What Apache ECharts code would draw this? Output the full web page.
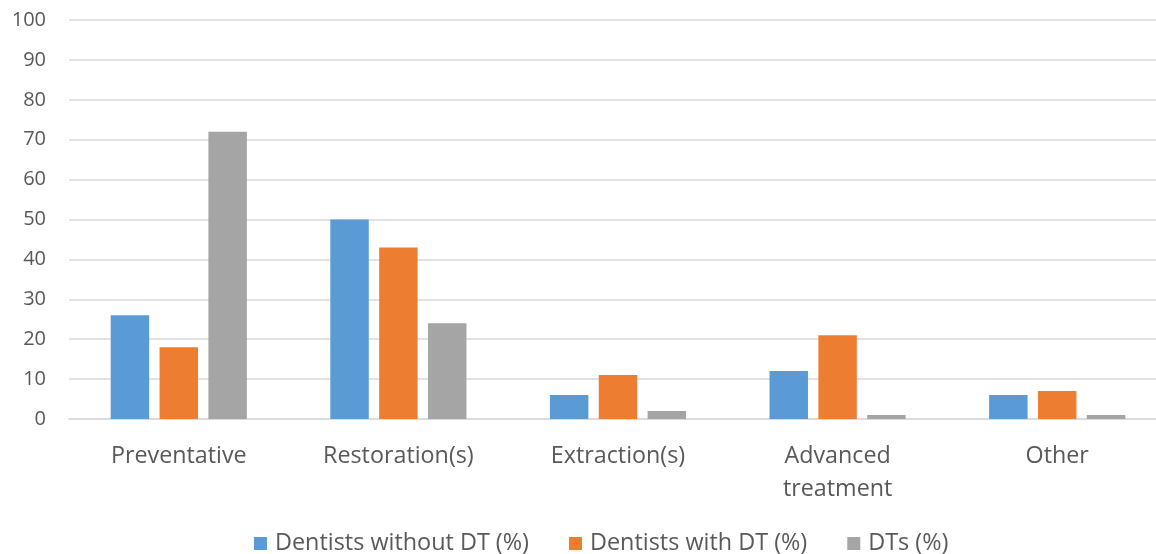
<!DOCTYPE html>
<html><head><meta charset="utf-8">
<script src="https://cdn.jsdelivr.net/npm/echarts@6/dist/echarts.min.js"></script>
<style>html,body{margin:0;padding:0;background:#fff}#c{width:1156px;height:554px}</style>
</head><body><div id="c"></div>
<script>
const categories = ['Preventative', 'Restoration(s)', 'Extraction(s)', 'Advanced\ntreatment', 'Other'];
const seriesNames = ['Dentists without DT (%)', 'Dentists with DT (%)', 'DTs (%)'];
const withoutDT = [26, 50, 6, 12, 6];
const withDT = [18, 43, 11, 21, 7];
const dts = [72, 24, 2, 1, 1];
const colors = ['#5b9bd5', '#ed7d31', '#a5a5a5'];
const font = 'Open Sans';
const chart = echarts.init(document.getElementById('c'));
chart.setOption({
  animation: false,
  textStyle: {fontFamily: font},
  grid: {left: 69, width: 1098, top: 20, bottom: 135, outerBoundsMode: 'none', containLabel: false},
  legend: {
    top: 527, left: 249, itemWidth: 13, itemHeight: 13, itemGap: 40,
    icon: 'rect',
    textStyle: {fontFamily: font, fontSize: 23.4, color: '#595959', padding: [0, 0, 0, 3]},
    data: seriesNames
  },
  xAxis: {
    type: 'category', data: categories,
    axisLine: {lineStyle: {color: '#d9d9d9', width: 1.5}},
    axisTick: {show: false},
    axisLabel: {fontFamily: font, fontSize: 23.3, color: '#595959', margin: 21, lineHeight: 33}
  },
  yAxis: {
    type: 'value', min: 0, max: 100, interval: 10,
    axisLine: {show: false}, axisTick: {show: false},
    splitLine: {lineStyle: {color: '#d9d9d9', width: 1.5}},
    axisLabel: {fontFamily: font, fontSize: 20, color: '#595959', margin: 23}
  },
  series: [
    {name: seriesNames[0], type: 'bar', data: withoutDT, itemStyle: {color: colors[0]}, barGap: '27%', barCategoryGap: '38%'},
    {name: seriesNames[1], type: 'bar', data: withDT, itemStyle: {color: colors[1]}},
    {name: seriesNames[2], type: 'bar', data: dts, itemStyle: {color: colors[2]}}
  ]
});
</script></body></html>
